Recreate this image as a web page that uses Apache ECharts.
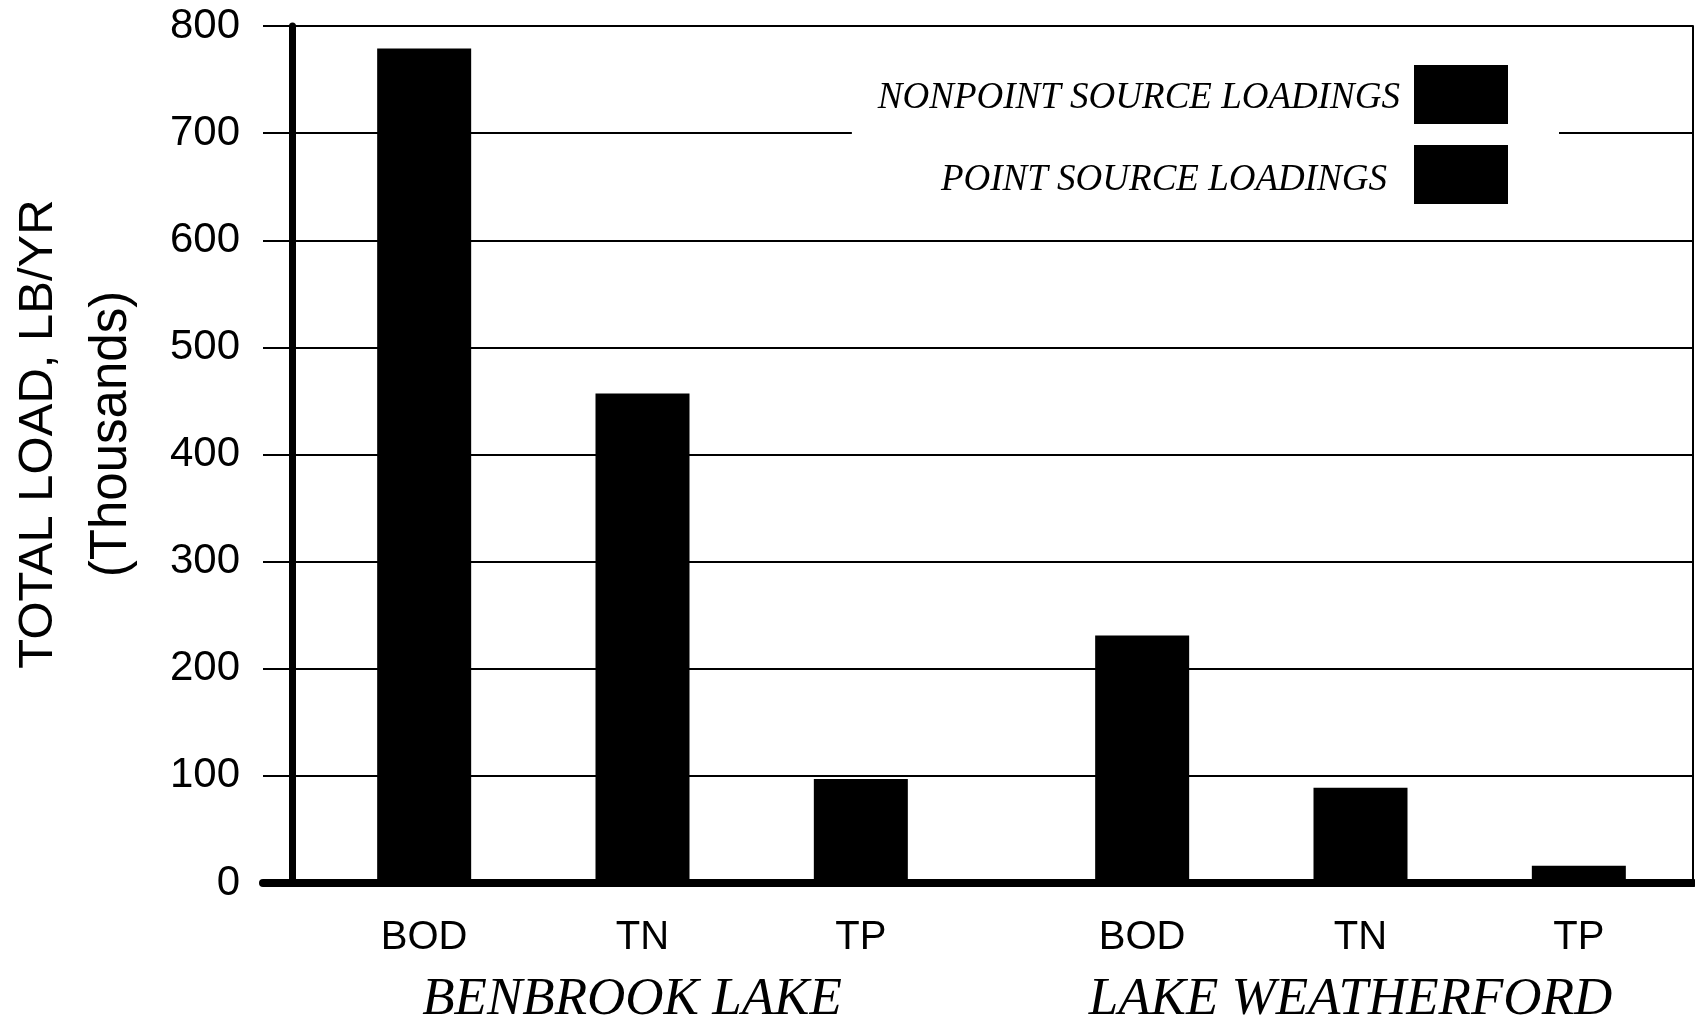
<!DOCTYPE html>
<html>
<head>
<meta charset="utf-8">
<script src="https://cdn.jsdelivr.net/npm/echarts@6/dist/echarts.min.js"></script>
<style>
html,body{margin:0;padding:0;background:#fff;}
#chart{width:1695px;height:1022px;}
</style>
</head>
<body>
<div id="chart"></div>
<script>
// ---- data ----
var parameters = ['BOD', 'TN', 'TP'];
var lakeNames = ['BENBROOK LAKE', 'LAKE WEATHERFORD'];
var benbrookTotalLoad = [779, 457, 97];      // thousands lb/yr
var weatherfordTotalLoad = [231, 89, 16];    // thousands lb/yr
var seriesNames = ['NONPOINT SOURCE LOADINGS', 'POINT SOURCE LOADINGS'];
var yMin = 0, yMax = 800, yStep = 100;
var yTitle = 'TOTAL LOAD, LB/YR';
var ySubTitle = '(Thousands)';

var chart = echarts.init(document.getElementById('chart'), null, {renderer: 'canvas'});

var sansFont = 'Liberation Sans';
var narrowFont = '"Liberation Sans Narrow", "Liberation Sans"';
var serifFont = '"Liberation Serif", "DejaVu Serif", serif';

var hiddenY = function (grid) {
  return {gridIndex: grid, type: 'value', min: yMin, max: yMax, interval: yStep, show: false};
};
var groupX = function (grid, name, pad) {
  return {
    gridIndex: grid, type: 'category', data: parameters,
    axisLine: {show: false}, axisTick: {show: false}, splitLine: {show: false},
    axisLabel: {margin: 35, fontFamily: narrowFont, fontSize: 40, color: '#000'},
    name: name, nameLocation: 'middle', nameGap: 91,
    nameTextStyle: {fontFamily: serifFont, fontStyle: 'italic', fontSize: 53, color: '#000', padding: pad}
  };
};

var option = {
  backgroundColor: '#fff',
  animation: false,
  grid: [
    {left: 263, right: 2, top: 26, bottom: 139, outerBoundsMode: 'none', containLabel: false},
    {left: 315, width: 655, top: 26, bottom: 139, outerBoundsMode: 'none', containLabel: false},
    {left: 1033, width: 655, top: 26, bottom: 139, outerBoundsMode: 'none', containLabel: false}
  ],
  legend: {
    orient: 'vertical', align: 'right',
    right: 136, top: 54,
    itemWidth: 94, itemHeight: 59, itemGap: 21,
    padding: [11, 51, 7, 26],
    backgroundColor: '#fff',
    icon: 'rect',
    data: seriesNames,
    formatter: function (n) { return n === seriesNames[1] ? '{p|' + n + '}' : '{n|' + n + '}'; },
    textStyle: {
      fontFamily: serifFont, fontStyle: 'italic', fontSize: 37, color: '#000',
      rich: {
        n: {fontFamily: serifFont, fontStyle: 'italic', fontSize: 37, color: '#000', padding: [8, 9, 0, 0]},
        p: {fontFamily: serifFont, fontStyle: 'italic', fontSize: 37, color: '#000', padding: [12, 22, 0, 0]}
      }
    }
  },
  xAxis: [
    {gridIndex: 0, type: 'value', min: 0, max: 1, show: true,
     axisLine: {show: true, onZero: false, lineStyle: {color: '#000', width: 8}},
     axisTick: {show: false}, axisLabel: {show: false}, splitLine: {show: false}},
    groupX(1, lakeNames[0], [0, 21, 0, 0]),
    groupX(2, lakeNames[1], [0, 20, 0, 0])
  ],
  yAxis: [
    {gridIndex: 0, type: 'value', min: yMin, max: yMax, interval: yStep, position: 'left', offset: -29,
     axisLine: {show: true, lineStyle: {color: '#000', width: 7}},
     axisTick: {show: false},
     axisLabel: {margin: 52, fontFamily: sansFont, fontSize: 42, color: '#000'},
     splitLine: {show: true, lineStyle: {color: '#000', width: 2}}},
    {gridIndex: 0, type: 'value', min: yMin, max: yMax, interval: yStep, position: 'right',
     axisLine: {show: true, lineStyle: {color: '#000', width: 2}},
     axisTick: {show: false}, axisLabel: {show: false}, splitLine: {show: false}},
    hiddenY(1),
    hiddenY(2)
  ],
  series: [
    {name: seriesNames[0], type: 'bar', xAxisIndex: 1, yAxisIndex: 2, stack: 'a',
     data: benbrookTotalLoad, barWidth: 94, itemStyle: {color: '#000'}},
    {name: seriesNames[0], type: 'bar', xAxisIndex: 2, yAxisIndex: 3, stack: 'b',
     data: weatherfordTotalLoad, barWidth: 94, itemStyle: {color: '#000'}},
    {name: seriesNames[1], type: 'bar', xAxisIndex: 1, yAxisIndex: 2, stack: 'a',
     data: [], barWidth: 94, itemStyle: {color: '#000'}}
  ],
  graphic: [
    {type: 'text', x: 38, y: 434, rotation: Math.PI / 2,
     style: {text: yTitle, fontFamily: sansFont, fontSize: 49, fill: '#000', align: 'center', verticalAlign: 'middle'}},
    {type: 'text', x: 112, y: 434, rotation: Math.PI / 2,
     style: {text: ySubTitle, fontFamily: sansFont, fontSize: 51, fill: '#000', align: 'center', verticalAlign: 'middle'}}
  ]
};
chart.setOption(option);
</script>
</body>
</html>
